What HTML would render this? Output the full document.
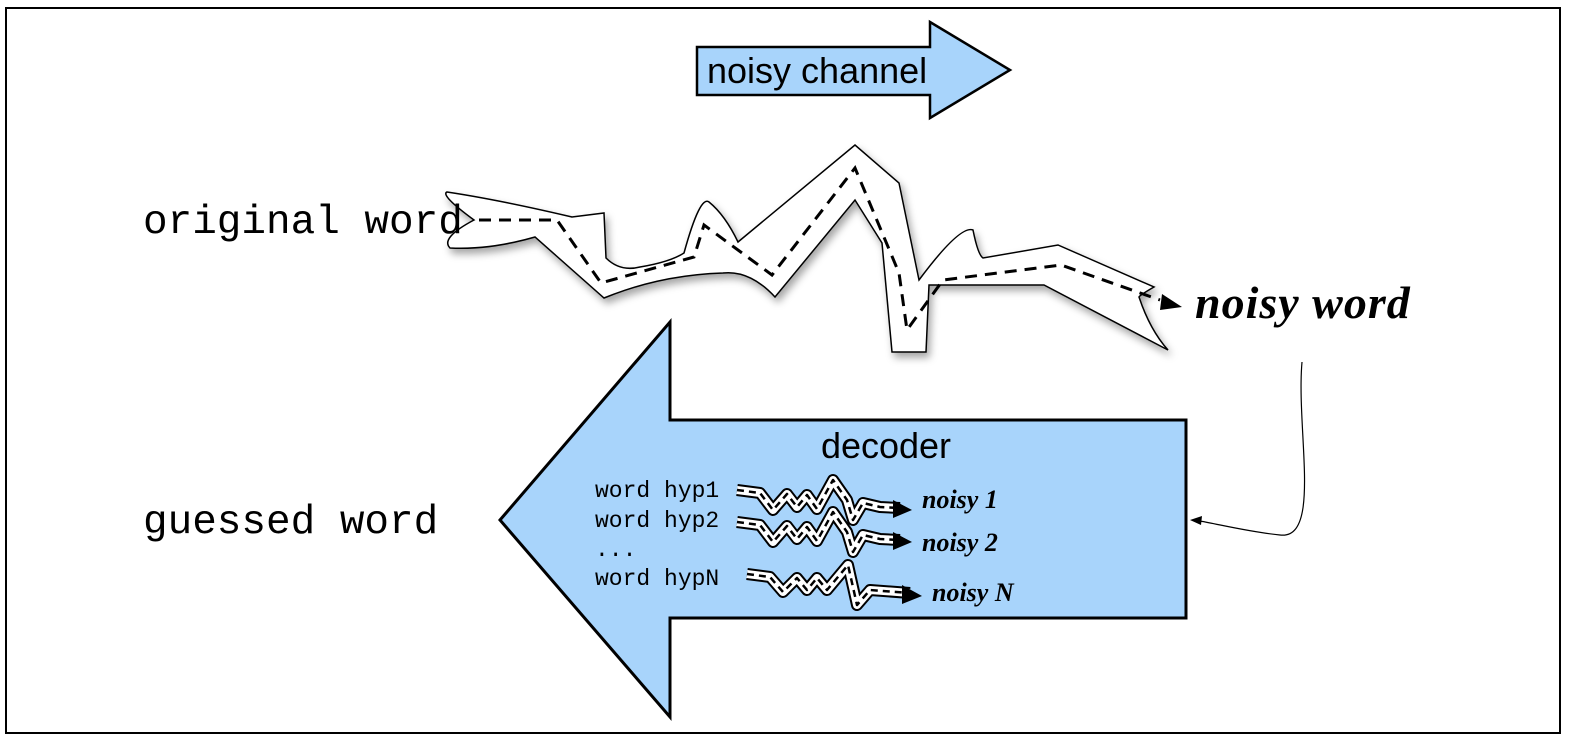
<!DOCTYPE html>
<html><head><style>
html,body{margin:0;padding:0;background:#fff;}
svg{display:block;}
</style></head><body>
<svg width="1581" height="746" viewBox="0 0 1581 746" xmlns="http://www.w3.org/2000/svg">
<defs>
<filter id="sh" x="-10%" y="-10%" width="130%" height="130%"><feDropShadow dx="3" dy="5" stdDeviation="4" flood-color="#000" flood-opacity="0.35"/></filter>
</defs>
<rect x="6" y="8" width="1554" height="725" fill="#fff" stroke="#000" stroke-width="2"/>
<polygon points="697,47 930,47 930,22 1010,70 930,118 930,95 697,95" fill="#a8d4fb" stroke="#000" stroke-width="2.5"/>
<text x="707" y="83" font-family="Liberation Sans, sans-serif" font-size="36">noisy channel</text>
<path filter="url(#sh)" d="M447,192 Q500,200 572,217 L604,213 L606,258 Q620,272 640,267 Q670,262 684,253 Q700,195 709,202 Q725,215 738,242 L855,145 L899,183 L919,280 Q960,225 973,230 Q978,255 983,258 L1058,245 L1154,287 Q1140,295 1139,297 Q1150,330 1168,350 L1044,285 L929,285 L926,352 L892,352 L882,243 L855,200 L775,297 Q750,270 723,273 Q660,275 604,298 L535,237 Q490,250 450,248 Q440,238 474,220 Q440,195 447,192 Z" fill="#fff" stroke="#000" stroke-width="1.5"/>
<polyline points="479,220 557,220 601,283 694,257 704,225 772,275 855,168 899,273 907,330 943,280 1061,265 1160,300" fill="none" stroke="#000" stroke-width="3" stroke-dasharray="12,8"/>
<polygon points="1162,294 1182,307 1160,310" fill="#000"/>
<text x="143" y="233" font-family="Liberation Mono, monospace" font-size="41">original word</text>
<text x="1195" y="318" font-family="Liberation Serif, serif" font-style="italic" font-weight="bold" font-size="46" letter-spacing="1">noisy word</text>
<polygon points="500,520 670,322 670,420 1186,420 1186,618 670,618 670,717" fill="#a8d4fb" stroke="#000" stroke-width="3"/>
<text x="886" y="458" text-anchor="middle" font-family="Liberation Sans, sans-serif" font-size="36">decoder</text>
<text x="143" y="533" font-family="Liberation Mono, monospace" font-size="41">guessed word</text>
<g font-family="Liberation Mono, monospace" font-size="23">
<text x="595" y="497">word hyp1</text>
<text x="595" y="527">word hyp2</text>
<text x="595" y="556">...</text>
<text x="595" y="585">word hypN</text>
</g>
<g fill="none" stroke-linejoin="round">
<g>
<polyline points="737,490 760,493 773,510 787,494 797,507 807,495 817,509 833,480 847,500 853,520 863,503 880,507 900,508" stroke="#000" stroke-width="12"/>
<polyline points="737,490 760,493 773,510 787,494 797,507 807,495 817,509 833,480 847,500 853,520 863,503 880,507 900,508" stroke="#fff" stroke-width="8"/>
<polyline points="737,490 760,493 773,510 787,494 797,507 807,495 817,509 833,480 847,500 853,520 863,503 880,507 900,508" stroke="#000" stroke-width="2.5" stroke-dasharray="7,5"/>
</g>
<g transform="translate(0,32)">
<polyline points="737,490 760,493 773,510 787,494 797,507 807,495 817,509 833,480 847,500 853,520 863,503 880,507 900,508" stroke="#000" stroke-width="12"/>
<polyline points="737,490 760,493 773,510 787,494 797,507 807,495 817,509 833,480 847,500 853,520 863,503 880,507 900,508" stroke="#fff" stroke-width="8"/>
<polyline points="737,490 760,493 773,510 787,494 797,507 807,495 817,509 833,480 847,500 853,520 863,503 880,507 900,508" stroke="#000" stroke-width="2.5" stroke-dasharray="7,5"/>
</g>
<polyline points="747,574 770,577 783,592 797,578 807,590 817,578 827,590 848,565 857,605 870,590 910,593" stroke="#000" stroke-width="12"/>
<polyline points="747,574 770,577 783,592 797,578 807,590 817,578 827,590 848,565 857,605 870,590 910,593" stroke="#fff" stroke-width="8"/>
<polyline points="747,574 770,577 783,592 797,578 807,590 817,578 827,590 848,565 857,605 870,590 910,593" stroke="#000" stroke-width="2.5" stroke-dasharray="7,5"/>
</g>
<polygon points="893,500 912,510 893,518" fill="#000"/>
<polygon points="893,532 912,542 893,550" fill="#000"/>
<polygon points="902,585 922,596 902,604" fill="#000"/>
<g font-family="Liberation Serif, serif" font-style="italic" font-weight="bold" font-size="26">
<text x="922" y="508">noisy 1</text>
<text x="922" y="551">noisy 2</text>
<text x="932" y="601">noisy N</text>
</g>
<path d="M1302,362 C1296,430 1322,540 1280,535 C1250,532 1222,525 1200,521" fill="none" stroke="#000" stroke-width="1.2"/>
<polygon points="1190,520 1202,516 1201,525" fill="#000"/>
</svg>
</body></html>
